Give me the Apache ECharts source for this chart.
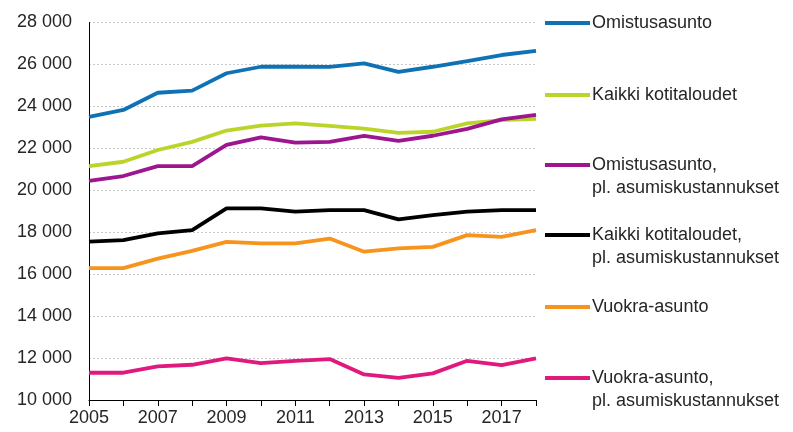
<!DOCTYPE html>
<html>
<head>
<meta charset="utf-8">
<script src="https://cdn.jsdelivr.net/npm/echarts@6/dist/echarts.min.js"></script>
<style>html,body{margin:0;padding:0;background:#fff}#c{width:793px;height:432px}</style>
</head>
<body>
<div id="c"></div>
<script>
const years = ['2005','2006','2007','2008','2009','2010','2011','2012','2013','2014','2015','2016','2017','2018'];
const seriesNames = [
  'Omistusasunto',
  'Kaikki kotitaloudet',
  'Omistusasunto,\npl. asumiskustannukset',
  'Kaikki kotitaloudet,\npl. asumiskustannukset',
  'Vuokra-asunto',
  'Vuokra-asunto,\npl. asumiskustannukset'
];
const omistusasunto = [23500, 23830, 24650, 24750, 25580, 25890, 25890, 25880, 26050, 25650, 25890, 26160, 26450, 26650];
const kaikki = [21150, 21360, 21920, 22310, 22850, 23080, 23190, 23070, 22940, 22740, 22790, 23190, 23350, 23400];
const omistusasuntoPl = [20450, 20680, 21150, 21150, 22160, 22520, 22270, 22310, 22590, 22360, 22600, 22930, 23380, 23590];
const kaikkiPl = [17550, 17620, 17940, 18100, 19140, 19140, 18980, 19050, 19050, 18610, 18820, 18980, 19050, 19050];
const vuokra = [16290, 16290, 16740, 17110, 17540, 17470, 17470, 17700, 17070, 17230, 17300, 17860, 17780, 18100];
const vuokraPl = [11300, 11300, 11600, 11680, 11990, 11760, 11870, 11950, 11220, 11060, 11270, 11870, 11660, 11990];
const yTicks = [10000, 28000, 2000];
const colors = ['#0f72b5', '#bcd42a', '#9e168f', '#000000', '#f7941e', '#e0197d'];

const allData = [omistusasunto, kaikki, omistusasuntoPl, kaikkiPl, vuokra, vuokraPl];
const fontFamily = '"Liberation Sans", Arial, sans-serif';
const textColor = '#262626';

function fmt(v){ return String(v).replace(/\B(?=(\d{3})+(?!\d))/g, ' '); }

const legendY = [23, 95, 165, 235, 307, 378];
const graphic = [];
seriesNames.forEach((n, i) => {
  graphic.push({
    type: 'line', shape: {x1: 545, y1: legendY[i], x2: 590, y2: legendY[i]},
    style: {stroke: colors[i], lineWidth: 4}
  });
  n.split('\n').forEach((t, k) => {
    graphic.push({
      type: 'text', x: 592, y: legendY[i] + k * 23,
      style: {text: t, fill: textColor, font: '18px ' + fontFamily, textVerticalAlign: 'middle', textAlign: 'left'}
    });
  });
});

const chart = echarts.init(document.getElementById('c'));
chart.setOption({
  animation: false,
  backgroundColor: '#fff',
  grid: {left: 89, right: 257, top: 22.5, bottom: 32, containLabel: false},
  xAxis: {
    type: 'category', data: years, boundaryGap: false,
    axisLine: {lineStyle: {color: '#000', width: 1}},
    axisTick: {show: true, interval: 0, length: 6, lineStyle: {color: '#000'}},
    axisLabel: {interval: 1, color: textColor, fontSize: 18, fontFamily: fontFamily, margin: 9},
    splitLine: {show: false}
  },
  yAxis: {
    type: 'value', min: yTicks[0], max: yTicks[1], interval: yTicks[2],
    axisLine: {show: true, lineStyle: {color: '#000', width: 1}},
    axisTick: {show: false},
    axisLabel: {color: textColor, fontSize: 18, fontFamily: fontFamily, margin: 17, formatter: fmt},
    splitLine: {lineStyle: {color: '#c8c8c8', type: [2, 2], width: 1}}
  },
  series: allData.map((d, i) => ({
    name: seriesNames[i], type: 'line', data: d, showSymbol: false, symbol: 'none',
    lineStyle: {color: colors[i], width: 3.8}, itemStyle: {color: colors[i]},
    z: 2 + i === 0 ? 8 : 2
  })),
  graphic: graphic
});
</script>
</body>
</html>
